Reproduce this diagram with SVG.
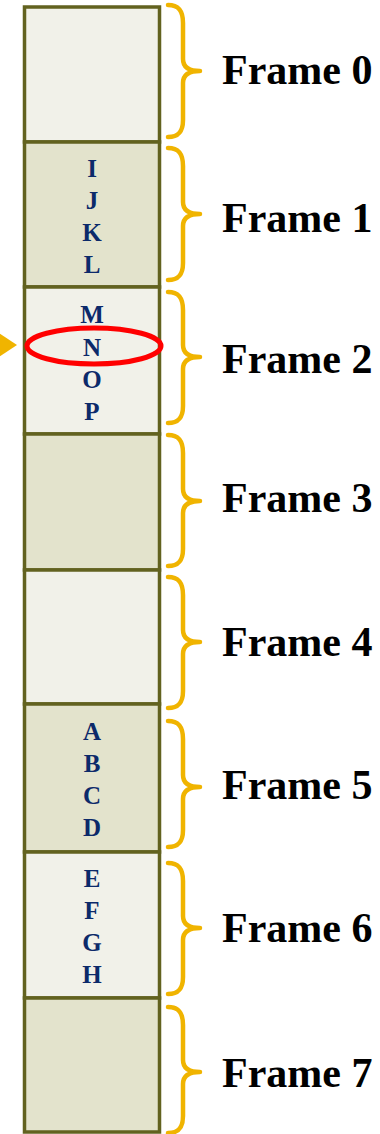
<svg xmlns="http://www.w3.org/2000/svg" width="380" height="1134" viewBox="0 0 380 1134">
<style>
.fl{fill:#f1f1e9;stroke:#62621f;stroke-width:3.5}
.fd{fill:#e3e3cc;stroke:#62621f;stroke-width:3.5}
.lt{font-family:"Liberation Serif",serif;font-weight:bold;font-size:25px;fill:#0c2a6a;text-anchor:middle}
.lb{font-family:"Liberation Serif",serif;font-weight:bold;font-size:42px;fill:#000}
.br{fill:none;stroke:#f0b400;stroke-width:4.5;stroke-linecap:round;stroke-linejoin:round}
</style>
<rect width="380" height="1134" fill="#fff"/>
<g id="frame0"><rect class="fl" x="24.5" y="7" width="135" height="135"/></g>
<g id="frame1"><rect class="fd" x="24.5" y="142" width="135" height="145"/>
<text class="lt" x="92" y="177">I</text><text class="lt" x="92" y="209">J</text><text class="lt" x="92" y="241">K</text><text class="lt" x="92" y="273">L</text></g>
<g id="frame2"><rect class="fl" x="24.5" y="287" width="135" height="147"/>
<text class="lt" x="92" y="323">M</text><text class="lt" x="92" y="356">N</text><text class="lt" x="92" y="388">O</text><text class="lt" x="92" y="420">P</text></g>
<g id="frame3"><rect class="fd" x="24.5" y="434" width="135" height="136"/></g>
<g id="frame4"><rect class="fl" x="24.5" y="570" width="135" height="134"/></g>
<g id="frame5"><rect class="fd" x="24.5" y="704" width="135" height="148"/>
<text class="lt" x="92" y="740">A</text><text class="lt" x="92" y="772">B</text><text class="lt" x="92" y="804">C</text><text class="lt" x="92" y="836">D</text></g>
<g id="frame6"><rect class="fl" x="24.5" y="852" width="135" height="146"/>
<text class="lt" x="92" y="887">E</text><text class="lt" x="92" y="919">F</text><text class="lt" x="92" y="951">G</text><text class="lt" x="92" y="983">H</text></g>
<g id="frame7"><rect class="fd" x="24.5" y="998" width="135" height="134"/></g>
<g id="highlight">
<ellipse cx="94" cy="346" rx="67" ry="18" fill="none" stroke="#ff0000" stroke-width="5"/>
<polygon points="-4,331 17,345 -4,359" fill="#f0b400"/>
</g>
<g id="braces">
<path class="br" d="M168 5C179 5 183 11 183 23L183 59C183 67 189 71 200 71C189 71 183 75 183 83L183 120C183 131 179 137 168 137"/>
<path class="br" d="M168 148C179 148 183 154 183 166L183 202C183 210 189 214 200 214C189 214 183 218 183 226L183 263C183 274 179 280 168 280"/>
<path class="br" d="M168 292C179 292 183 298 183 310L183 345C183 353 189 357 200 357C189 357 183 361 183 369L183 406C183 417 179 423 168 423"/>
<path class="br" d="M168 435C179 435 183 441 183 453L183 489C183 497 189 501 200 501C189 501 183 505 183 513L183 549C183 560 179 566 168 566"/>
<path class="br" d="M168 577C179 577 183 583 183 595L183 630C183 638 189 642 200 642C189 642 183 646 183 654L183 691C183 702 179 708 168 708"/>
<path class="br" d="M168 721C179 721 183 727 183 739L183 775C183 783 189 787 200 787C189 787 183 791 183 799L183 830C183 841 179 847 168 847"/>
<path class="br" d="M168 863C179 863 183 869 183 881L183 916C183 924 189 928 200 928C189 928 183 932 183 940L183 977C183 988 179 994 168 994"/>
<path class="br" d="M168 1007C179 1007 183 1013 183 1025L183 1060C183 1068 189 1072 200 1072C189 1072 183 1076 183 1084L183 1116C183 1127 179 1133 168 1133"/>
</g>
<g id="labels">
<text class="lb" x="222" y="84">Frame 0</text>
<text class="lb" x="222" y="232">Frame 1</text>
<text class="lb" x="222" y="373">Frame 2</text>
<text class="lb" x="222" y="512">Frame 3</text>
<text class="lb" x="222" y="656">Frame 4</text>
<text class="lb" x="222" y="799">Frame 5</text>
<text class="lb" x="222" y="942">Frame 6</text>
<text class="lb" x="222" y="1087">Frame 7</text>
</g>
</svg>
